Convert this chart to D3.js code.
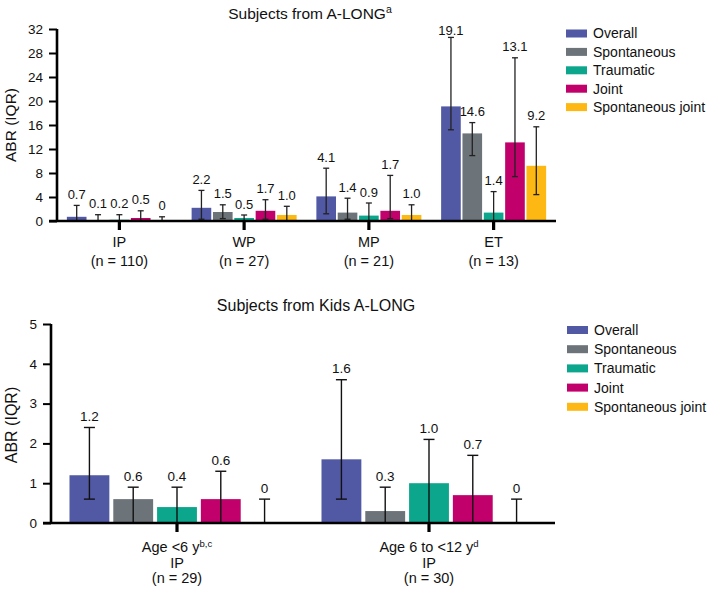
<!DOCTYPE html>
<html><head><meta charset="utf-8">
<script src="https://cdn.jsdelivr.net/npm/d3@7"></script>
<style>
html,body{margin:0;padding:0;background:#fff;}
text{font-family:"Liberation Sans",Arial,sans-serif;fill:#111;}
</style></head>
<body><svg id="c" width="709" height="589"></svg>
<script>
// ---------- DATA ----------
const series = ["Overall","Spontaneous","Traumatic","Joint","Spontaneous joint"];
const colors = ["#5159a4","#6c747a","#0ca68c","#c1006b","#fdb813"];

// Top panel: Subjects from A-LONG
const topCategories = ["IP","WP","MP","ET"];
const topN = [110,27,21,13];
const topOverall     = [0.7, 2.2, 4.1, 19.1];
const topSpontaneous = [0.1, 1.5, 1.4, 14.6];
const topTraumatic   = [0.2, 0.5, 0.9, 1.4];
const topJoint       = [0.5, 1.7, 1.7, 13.1];
const topSpontJoint  = [0,   1.0, 1.0, 9.2];
const topOverallLow  = [0, 0.3, 1.2, 15.2], topOverallHigh  = [2.6, 5.1, 8.8, 30.6];
const topSpontLow    = [0, 0.4, 0.3, 10.9], topSpontHigh    = [1.05, 2.7, 3.8, 16.4];
const topTraumLow    = [0, 0, 0, 0],        topTraumHigh    = [1.05, 1.0, 3.0, 4.9];
const topJointLow    = [0, 0.3, 0.4, 7.4],  topJointHigh    = [1.7, 3.55, 7.6, 27.2];
const topSJLow       = [0, 0, 0, 4.4],      topSJHigh       = [0.7, 2.45, 2.7, 15.7];
const topTicks = [0,4,8,12,16,20,24,28,32];

// Bottom panel: Subjects from Kids A-LONG
const botCategories = ["Age <6 y","Age 6 to <12 y"];
const botSup = ["b,c","d"];
const botN = [29,30];
const botOverall     = [1.2, 1.6];
const botSpontaneous = [0.6, 0.3];
const botTraumatic   = [0.4, 1.0];
const botJoint       = [0.6, 0.7];
const botSpontJoint  = [0, 0];
const botOverallLow  = [0.6, 0.6], botOverallHigh = [2.4, 3.6];
const botSpontLow    = [0, 0],     botSpontHigh   = [0.9, 0.9];
const botTraumLow    = [0, 0],     botTraumHigh   = [0.9, 2.1];
const botJointLow    = [0, 0],     botJointHigh   = [1.3, 1.7];
const botSJLow       = [0, 0],     botSJHigh      = [0.6, 0.6];
const botTicks = [0,1,2,3,4,5];

// ---------- BUILD ----------
function rows(cats, vals, lows, highs){
  const out=[];
  cats.forEach((c,i)=>{
    series.forEach((s,j)=>{
      out.push({cat:c, ser:s, si:j, v:vals[j][i], lo:lows[j][i], hi:highs[j][i]});
    });
  });
  return out;
}
const topData = rows(topCategories,
  [topOverall,topSpontaneous,topTraumatic,topJoint,topSpontJoint],
  [topOverallLow,topSpontLow,topTraumLow,topJointLow,topSJLow],
  [topOverallHigh,topSpontHigh,topTraumHigh,topJointHigh,topSJHigh]);
const botData = rows(botCategories,
  [botOverall,botSpontaneous,botTraumatic,botJoint,botSpontJoint],
  [botOverallLow,botSpontLow,botTraumLow,botJointLow,botSJLow],
  [botOverallHigh,botSpontHigh,botTraumHigh,botJointHigh,botSJHigh]);

const svg = d3.select("#c");
const fmt = v => v===0 ? "0" : v.toFixed(1);

function panel(o){
  const g = svg.append("g");
  const x0 = d3.scaleBand().domain(o.cats).range([o.x0,o.x1]);
  const bw = x0.bandwidth();
  const x1 = d3.scaleBand().domain(series)
    .range([bw/2 - o.group/2, bw/2 + o.group/2]).paddingInner(o.pad);
  const y = d3.scaleLinear().domain([0,o.ymax]).range([o.yb,o.yt]);

  // bars
  g.selectAll("rect.bar").data(o.data).join("rect")
    .attr("x", d=>x0(d.cat)+x1(d.ser))
    .attr("y", d=>y(d.v))
    .attr("width", x1.bandwidth())
    .attr("height", d=>y(0)-y(d.v))
    .attr("fill", d=>colors[d.si]);

  // error bars
  const eb = g.selectAll("g.eb").data(o.data).join("g")
    .attr("transform", d=>`translate(${x0(d.cat)+x1(d.ser)+x1.bandwidth()/2},0)`)
    .attr("stroke", o.ebColor).attr("stroke-width", o.ebW);
  eb.append("line").attr("y1",d=>y(d.lo)).attr("y2",d=>y(d.hi));
  eb.append("line").attr("x1",-o.cap/2).attr("x2",o.cap/2).attr("y1",d=>y(d.hi)).attr("y2",d=>y(d.hi));
  eb.append("line").attr("x1",-o.cap/2).attr("x2",o.cap/2).attr("y1",d=>y(d.lo)).attr("y2",d=>y(d.lo));

  // value labels
  g.selectAll("text.vl").data(o.data).join("text")
    .attr("x", d=>x0(d.cat)+x1(d.ser)+x1.bandwidth()/2)
    .attr("y", d=>Math.max(y(d.hi)-11, o.yt+1))
    .attr("dy","0.35em")
    .attr("text-anchor","middle")
    .style("font-size", o.vlFont+"px")
    .text(d=>fmt(d.v));

  // y axis
  const ya = g.append("g").attr("transform",`translate(${o.x0},0)`)
    .call(d3.axisLeft(y).tickValues(o.ticks).tickSize(8).tickPadding(6).tickFormat(d3.format("d")));
  ya.select(".domain").attr("stroke","#000").attr("stroke-width",2.6).attr("d",`M0,${y(0)}V${y(o.ymax)}`);
  ya.selectAll(".tick line").attr("stroke","#000").attr("stroke-width",2);
  ya.selectAll(".tick text").style("font-size",o.tickFont+"px").attr("fill","#111")
    .style("font-family","'Liberation Sans',Arial,sans-serif");

  // x axis
  const xa = g.append("g").attr("transform",`translate(0,${y(0)})`)
    .call(d3.axisBottom(x0).tickSize(9).tickFormat(""));
  xa.select(".domain").attr("stroke","#000").attr("stroke-width",2.6).attr("d",`M${o.x0-8},0H${o.x1}`);
  xa.selectAll(".tick line").attr("stroke","#000").attr("stroke-width",3.2);

  // category labels
  o.cats.forEach((c,i)=>{
    const cx = x0(c)+bw/2;
    o.catLines(i).forEach((ln,k)=>{
      const t = g.append("text").attr("x",cx).attr("y",o.catY[k])
        .attr("text-anchor","middle").style("font-size",o.catFont+"px");
      t.append("tspan").text(ln.t);
      if(ln.sup){
        t.append("tspan").attr("dy","-0.5em").style("font-size",(o.catFont*0.66)+"px").text(ln.sup);
      }
    });
  });

  // title
  const tt = g.append("text").attr("x",o.titleX).attr("y",o.titleY).attr("text-anchor","middle")
    .style("font-size",o.titleFont+"px");
  tt.append("tspan").text(o.title);
  if(o.titleSup) tt.append("tspan").attr("dy","-0.5em").style("font-size",(o.titleFont*0.68)+"px").text(o.titleSup);

  // y label
  g.append("text").attr("transform",`translate(${o.ylx},${o.yly}) rotate(-90)`)
    .attr("text-anchor","middle").attr("dy","0.35em").style("font-size",o.ylFont+"px").text("ABR (IQR)");

  // legend
  const lg = g.append("g").selectAll("g").data(series).join("g")
    .attr("transform",(d,i)=>`translate(${o.legX},${o.legY + i*o.legStep})`);
  lg.append("rect").attr("x",0).attr("y",-4).attr("width",21).attr("height",8).attr("fill",(d,i)=>colors[i]);
  lg.append("text").attr("x",27).attr("y",0).attr("dy","0.35em").style("font-size","14px").text(d=>d);
}

panel({
  data: topData, cats: topCategories, x0:57, x1:556, group:105, pad:0.08,
  ymax:32, yb:221, yt:29, ticks: topTicks,
  ebColor:"#222", ebW:1.3, cap:6, vlFont:13, tickFont:13.5,
  catLines: i=>[{t:topCategories[i]},{t:`(n = ${topN[i]})`}],
  catY:[247,265.5], catFont:14.5,
  title:"Subjects from A-LONG", titleSup:"a", titleX:310, titleY:18.5, titleFont:15.5,
  ylx:11, yly:125, ylFont:15.5,
  legX:566, legY:33.5, legStep:18.4
});

panel({
  data: botData, cats: botCategories, x0:51, x1:555, group:215, pad:0.09,
  ymax:5, yb:523, yt:324, ticks: botTicks,
  ebColor:"#111", ebW:1.4, cap:11, vlFont:13.5, tickFont:13.5,
  catLines: i=>[{t:botCategories[i], sup:botSup[i]},{t:"IP"},{t:`(n = ${botN[i]})`}],
  catY:[552,567.5,583], catFont:14.5,
  title:"Subjects from Kids A-LONG", titleSup:null, titleX:316, titleY:311, titleFont:16,
  ylx:11.5, yly:425, ylFont:16,
  legX:567, legY:330, legStep:19.2
});
</script></body></html>
